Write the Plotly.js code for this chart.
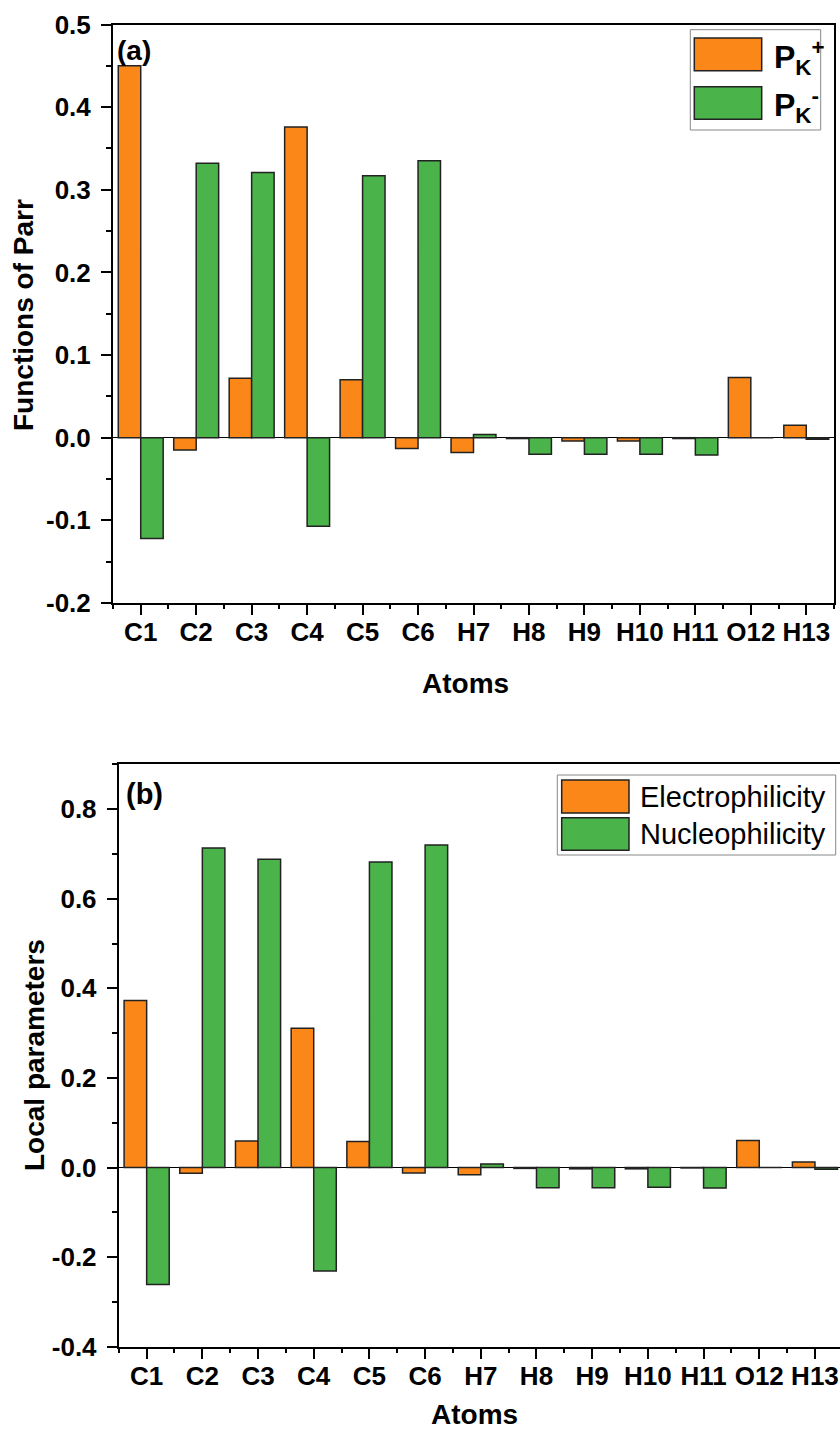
<!DOCTYPE html>
<html>
<head>
<meta charset="utf-8">
<script src="https://cdn.plot.ly/plotly-3.0.1.min.js"></script>
<style>
html,body{margin:0;padding:0;overflow:hidden;background:#fff;}
#chart{width:843px;height:1435px;}
</style>
</head>
<body>
<div id="chart"></div>
<script>
// ---- data ----
const atoms = ["C1","C2","C3","C4","C5","C6","H7","H8","H9","H10","H11","O12","H13"];
const pkPlus  = [0.450, -0.015, 0.072, 0.376, 0.070, -0.013, -0.018, -0.001, -0.004, -0.004, -0.001, 0.073, 0.015];
const pkMinus = [-0.122, 0.332, 0.321, -0.107, 0.317, 0.335, 0.004, -0.020, -0.020, -0.020, -0.021, 0.000, -0.002];
const electrophilicity = [0.373, -0.013, 0.059, 0.311, 0.058, -0.012, -0.016, -0.002, -0.003, -0.003, -0.001, 0.060, 0.012];
const nucleophilicity  = [-0.261, 0.713, 0.688, -0.231, 0.682, 0.720, 0.008, -0.045, -0.045, -0.044, -0.046, 0.000, -0.004];
const yTicksTop = [-0.2, -0.1, 0.0, 0.1, 0.2, 0.3, 0.4, 0.5];
const yTickTextTop = ["-0.2","-0.1","0.0","0.1","0.2","0.3","0.4","0.5"];
const yTicksBot = [-0.4, -0.2, 0.0, 0.2, 0.4, 0.6, 0.8];
const yTickTextBot = ["-0.4","-0.2","0.0","0.2","0.4","0.6","0.8"];

// ---- styling ----
const W = 843, H = 1435;
const fx = p => p / W;
const fy = p => 1 - p / H;
const ORANGE = "#fb8718", GREEN = "#4ab34a", EDGE = "#222222";
const FONT = "Arial, 'Liberation Sans', sans-serif";

const bound = atoms.map((a, i) => i - 0.5).concat([atoms.length - 0.5]);
const minorTop = yTicksTop.slice(0, -1).map((v, i) => (v + yTicksTop[i + 1]) / 2);
const minorBot = yTicksBot.slice(0, -1).map((v, i) => (v + yTicksBot[i + 1]) / 2).concat([0.9]);

function bar(y, color, xa, ya, name) {
  return {type: "bar", x: atoms, y: y, name: name, xaxis: xa, yaxis: ya,
    marker: {color: color, line: {color: EDGE, width: 1.5}}, showlegend: false};
}

const traces = [
  bar(pkPlus, ORANGE, "x", "y", "PK+"),
  bar(pkMinus, GREEN, "x", "y", "PK-"),
  bar(electrophilicity, ORANGE, "x2", "y2", "Electrophilicity"),
  bar(nucleophilicity, GREEN, "x2", "y2", "Nucleophilicity"),
  {type: "scatter", x: [], y: [], xaxis: "x3", yaxis: "y", showlegend: false, hoverinfo: "skip"},
  {type: "scatter", x: [], y: [], xaxis: "x4", yaxis: "y2", showlegend: false, hoverinfo: "skip"}
];

function tickFont() { return {family: FONT, size: 26, color: "#000", weight: "bold"}; }

function xCat(domain, anchor) {
  return {domain: domain, anchor: anchor, type: "category", categoryarray: atoms,
    range: [-0.5, atoms.length - 0.5], showline: true, linewidth: 2, linecolor: "#000",
    mirror: true, ticks: "outside", ticklen: 10, tickwidth: 2, tickcolor: "#000",
    showgrid: false, zeroline: false, tickfont: tickFont(), ticklabelstandoff: -5, fixedrange: true};
}
function xMinor(over, anchor) {
  return {overlaying: over, anchor: anchor, type: "linear", range: [-0.5, atoms.length - 0.5],
    tickmode: "array", tickvals: bound, ticks: "outside", ticklen: 5, tickwidth: 2, tickcolor: "#000",
    showticklabels: false, showline: false, showgrid: false, zeroline: false, fixedrange: true};
}
function yAx(domain, anchor, range, tv, tt, minor) {
  return {domain: domain, anchor: anchor, range: range, tickmode: "array", tickvals: tv, ticktext: tt,
    showline: true, linewidth: 2, linecolor: "#000", mirror: true,
    ticks: "outside", ticklen: 10, tickwidth: 2, tickcolor: "#000",
    minor: {tickmode: "array", tickvals: minor, ticks: "outside", ticklen: 5, tickwidth: 2, tickcolor: "#000", showgrid: false},
    showgrid: false, zeroline: true, zerolinecolor: "#000", zerolinewidth: 1.5,
    tickfont: tickFont(), ticklabelstandoff: 5, fixedrange: true};
}

const topX = [fx(113), fx(834)], topY = [fy(603), fy(24.5)];
const botX = [fx(118.8), fx(842.8)], botY = [fy(1346.7), fy(764.3)];

function ann(text, x, y, size, opts) {
  return Object.assign({text: text, xref: "paper", yref: "paper", x: fx(x), y: fy(y), showarrow: false,
    xanchor: "center", yanchor: "middle", font: {family: FONT, size: size, color: "#000", weight: "bold"}}, opts || {});
}
function rect(x0, y0, x1, y1, fill, line, lw) {
  return {type: "rect", xref: "paper", yref: "paper", x0: fx(x0), x1: fx(x1), y0: fy(y1), y1: fy(y0),
    fillcolor: fill, line: {color: line, width: lw}};
}

const layout = {
  width: W, height: H, margin: {l: 0, r: 0, t: 0, b: 0},
  paper_bgcolor: "#fff", plot_bgcolor: "rgba(0,0,0,0)",
  barmode: "group", bargap: 0.19, bargroupgap: 0,
  font: {family: FONT, color: "#000"},
  xaxis: xCat(topX, "y"),
  yaxis: yAx(topY, "x", [-0.2, 0.5], yTicksTop, yTickTextTop, minorTop),
  xaxis2: xCat(botX, "y2"),
  yaxis2: yAx(botY, "x2", [-0.4, 0.9], yTicksBot, yTickTextBot, minorBot),
  xaxis3: xMinor("x", "y"),
  xaxis4: xMinor("x2", "y2"),
  shapes: [
    rect(690.3, 29.7, 820.7, 130, "#fff", "#888", 1),
    rect(694.3, 38, 761.7, 70.7, ORANGE, EDGE, 1.5),
    rect(694.3, 86.7, 761.7, 119.3, GREEN, EDGE, 1.5),
    rect(557.3, 775, 835.7, 855, "#fff", "#888", 1),
    rect(561.7, 780, 629, 813, ORANGE, EDGE, 1.5),
    rect(561.7, 817.7, 629, 850.3, GREEN, EDGE, 1.5)
  ],
  annotations: [
    ann("(a)", 134, 50, 28),
    ann("(b)", 144, 794, 29),
    ann("Functions of Parr", 24, 315, 28, {textangle: -90}),
    ann("Local parameters", 34, 1055, 28, {textangle: -90}),
    ann("Atoms", 465, 683, 28),
    ann("Atoms", 475, 1414, 28),
    ann("P<sub>K</sub><sup>+</sup>", 771.7, 58, 32, {xanchor: "left"}),
    ann("P<sub>K</sub><sup>-</sup>", 771.7, 106, 32, {xanchor: "left"}),
    ann("Electrophilicity", 638.3, 797, 29, {xanchor: "left", font: {family: FONT, size: 29, color: "#000"}}),
    ann("Nucleophilicity", 638.3, 834, 29, {xanchor: "left", font: {family: FONT, size: 29, color: "#000"}})
  ]
};

Plotly.newPlot("chart", traces, layout, {staticPlot: true, displayModeBar: false});
</script>
</body>
</html>
